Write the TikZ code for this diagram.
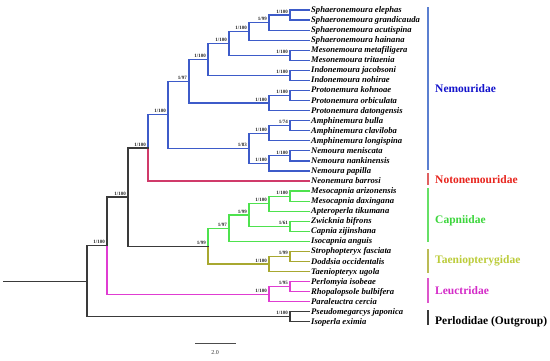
\documentclass[tikz,border=0pt]{standalone}
\usepackage{fontspec}
\setmainfont{Liberation Serif}
\definecolor{bbl}{HTML}{3D5BC9}
\definecolor{bno}{HTML}{D03A6A}
\definecolor{bca}{HTML}{4EE24E}
\definecolor{bta}{HTML}{A8A830}
\definecolor{ble}{HTML}{E03CD2}
\definecolor{bbk}{HTML}{3A3A3A}
\definecolor{tbl}{HTML}{1414CC}
\definecolor{tno}{HTML}{E8251E}
\definecolor{tca}{HTML}{3CD63C}
\definecolor{tta}{HTML}{BCCC3A}
\definecolor{tle}{HTML}{D42AC8}
\definecolor{rbl}{HTML}{5B7FD0}
\definecolor{rno}{HTML}{E06060}
\definecolor{rca}{HTML}{66E066}
\definecolor{rta}{HTML}{BBBB55}
\definecolor{rle}{HTML}{DD55CC}
\tikzset{
  br/.style={line width=1.2pt, line cap=rect},
  taxon/.style={anchor=west, inner xsep=2pt, inner ysep=0pt, text height=0.7em, text depth=0.2em,
    font=\fontsize{8.6}{9}\selectfont\bfseries\itshape},
  sup/.style={anchor=south east, inner sep=0pt, xshift=-2pt, yshift=1.6pt,
    font=\fontsize{5}{5}\selectfont\bfseries, text=black!85},
  fam/.style={anchor=west, inner sep=0pt, font=\fontsize{11.5}{12}\selectfont\bfseries},
  cbar/.style={line width=1.3pt}
}
\newcommand\inode[4]{\coordinate (#1) at (#2,#3); \node[sup] (s#1) at (#1) {#4};}
\begin{document}
\begin{tikzpicture}[x=1pt,y=-1pt]
\fill[white] (0,0) rectangle (550,360);
\useasboundingbox (0,0) rectangle (550,360);
% leaves
\node[taxon] (t0) at (309,10) {Sphaeronemoura elephas};
\node[taxon] (t1) at (309,20.06) {Sphaeronemoura grandicauda};
\node[taxon] (t2) at (309,30.12) {Sphaeronemoura acutispina};
\node[taxon] (t3) at (309,40.18) {Sphaeronemoura hainana};
\node[taxon] (t4) at (309,50.24) {Mesonemoura metafiligera};
\node[taxon] (t5) at (309,60.3) {Mesonemoura tritaenia};
\node[taxon] (t6) at (309,70.36) {Indonemoura jacobsoni};
\node[taxon] (t7) at (309,80.42) {Indonemoura nohirae};
\node[taxon] (t8) at (309,90.48) {Protonemura kohnoae};
\node[taxon] (t9) at (309,100.54) {Protonemura orbiculata};
\node[taxon] (t10) at (309,110.6) {Protonemura datongensis};
\node[taxon] (t11) at (309,120.66) {Amphinemura bulla};
\node[taxon] (t12) at (309,130.72) {Amphinemura claviloba};
\node[taxon] (t13) at (309,140.78) {Amphinemura longispina};
\node[taxon] (t14) at (309,150.84) {Nemoura meniscata};
\node[taxon] (t15) at (309,160.9) {Nemoura nankinensis};
\node[taxon] (t16) at (309,170.96) {Nemoura papilla};
\node[taxon] (t17) at (309,181.02) {Neonemura barrosi};
\node[taxon] (t18) at (309,191.08) {Mesocapnia arizonensis};
\node[taxon] (t19) at (309,201.14) {Mesocapnia daxingana};
\node[taxon] (t20) at (309,211.2) {Apteroperla tikumana};
\node[taxon] (t21) at (309,221.26) {Zwicknia bifrons};
\node[taxon] (t22) at (309,231.32) {Capnia zijinshana};
\node[taxon] (t23) at (309,241.38) {Isocapnia anguis};
\node[taxon] (t24) at (309,251.44) {Strophopteryx fasciata};
\node[taxon] (t25) at (309,261.5) {Doddsia occidentalis};
\node[taxon] (t26) at (309,271.56) {Taeniopteryx ugola};
\node[taxon] (t27) at (309,281.62) {Perlomyia isobeae};
\node[taxon] (t28) at (309,291.68) {Rhopalopsole bulbifera};
\node[taxon] (t29) at (309,301.74) {Paraleuctra cercia};
\node[taxon] (t30) at (309,311.8) {Pseudomegarcys japonica};
\node[taxon] (t31) at (309,321.86) {Isoperla eximia};
% internal nodes
\inode{n1}{290}{15.03}{1/100}
\inode{n2}{269}{22.6}{1/99}
\inode{n3}{249}{31.4}{1/100}
\inode{n4}{290}{55.27}{1/100}
\inode{n5}{229}{43.3}{1/100}
\inode{n6}{290}{75.39}{1/100}
\inode{n7}{208}{59.35}{1/100}
\inode{n8}{290}{95.5}{1/100}
\inode{n9}{269}{103.05}{1/100}
\inode{n10}{189}{81.2}{1/97}
\inode{n11}{290}{125.7}{1/74}
\inode{n12}{269}{133.2}{1/100}
\inode{n13}{290}{155.87}{1/100}
\inode{n14}{269}{163.4}{1/100}
\inode{n15}{249}{148.3}{1/83}
\inode{n16}{168}{114.8}{1/100}
\inode{n17}{148}{147.9}{1/100}
\inode{n18}{290}{196.1}{1/100}
\inode{n19}{269}{203.65}{1/100}
\inode{n20}{290}{226.3}{1/61}
\inode{n21}{249}{215}{1/99}
\inode{n22}{229}{228.2}{1/97}
\inode{n23}{290}{256.5}{1/99}
\inode{n24}{269}{264}{1/100}
\inode{n25}{208}{246.1}{1/99}
\inode{n26}{128}{197}{1/100}
\inode{n27}{290}{286.65}{1/95}
\inode{n28}{269}{294.2}{1/100}
\inode{n29}{107}{245.6}{1/100}
\inode{n30}{290}{316.8}{1/100}
\coordinate (n31) at (87,281.2);
\coordinate (root) at (4,281.2);
% Nemouridae edges
\begin{scope}[br, draw=bbl]
\draw (n1) |- (t0.west); \draw (n1) |- (t1.west);
\draw (n2) |- (n1); \draw (n2) |- (t2.west);
\draw (n3) |- (n2); \draw (n3) |- (t3.west);
\draw (n4) |- (t4.west); \draw (n4) |- (t5.west);
\draw (n5) |- (n3); \draw (n5) |- (n4);
\draw (n6) |- (t6.west); \draw (n6) |- (t7.west);
\draw (n7) |- (n5); \draw (n7) |- (n6);
\draw (n8) |- (t8.west); \draw (n8) |- (t9.west);
\draw (n9) |- (n8); \draw (n9) |- (t10.west);
\draw (n10) |- (n7); \draw (n10) |- (n9);
\draw (n11) |- (t11.west); \draw (n11) |- (t12.west);
\draw (n12) |- (n11); \draw (n12) |- (t13.west);
\draw (n13) |- (t14.west); \draw (n13) |- (t15.west);
\draw (n14) |- (n13); \draw (n14) |- (t16.west);
\draw (n15) |- (n12); \draw (n15) |- (n14);
\draw (n16) |- (n10); \draw (n16) |- (n15);
\draw (n17) |- (n16);
\end{scope}
\draw[br, bno] (n17) |- (t17.west);
% Capniidae
\begin{scope}[br, draw=bca]
\draw (n18) |- (t18.west); \draw (n18) |- (t19.west);
\draw (n19) |- (n18); \draw (n19) |- (t20.west);
\draw (n20) |- (t21.west); \draw (n20) |- (t22.west);
\draw (n21) |- (n19); \draw (n21) |- (n20);
\draw (n22) |- (n21); \draw (n22) |- (t23.west);
\draw (n25) |- (n22);
\end{scope}
% Taeniopterygidae
\begin{scope}[br, draw=bta]
\draw (n23) |- (t24.west); \draw (n23) |- (t25.west);
\draw (n24) |- (n23); \draw (n24) |- (t26.west);
\draw (n25) |- (n24);
\end{scope}
% Leuctridae
\begin{scope}[br, draw=ble]
\draw (n27) |- (t27.west); \draw (n27) |- (t28.west);
\draw (n28) |- (n27); \draw (n28) |- (t29.west);
\draw (n29) |- (n28);
\end{scope}
% backbone
\begin{scope}[br, draw=bbk]
\draw (n26) |- (n17); \draw (n26) |- (n25);
\draw (n29) |- (n26);
\draw (n30) |- (t30.west); \draw (n30) |- (t31.west);
\draw (n31) |- (n29); \draw (n31) |- (n30);
\draw (root) -- (n31);
\end{scope}
% clade bars
\draw[cbar, rbl] (428,7) -- (428,170);
\draw[cbar, rno] (428,173) -- (428,185);
\draw[cbar, rca] (428,188) -- (428,242);
\draw[cbar, rta] (428,249) -- (428,273);
\draw[cbar, rle] (428,278) -- (428,303);
\draw[cbar, bbk] (428,310) -- (428,325);
\node[fam, text=tbl] (fnem) at (435,89) {Nemouridae};
\node[fam, text=tno] (fnot) at (435,180) {Notonemouridae};
\node[fam, text=tca] (fcap) at (435,221) {Capniidae};
\node[fam, text=tta] (ftae) at (435,260.5) {Taeniopterygidae};
\node[fam, text=tle] (fleu) at (435,291) {Leuctridae};
\node[fam, text=black] (fper) at (435,322) {Perlodidae (Outgroup)};
% scale bar
\coordinate (sba) at (195,343);
\coordinate (sbb) at (236,343);
\draw[line width=0.9pt, black!70] (sba) -- (sbb);
\node[inner sep=0pt, font=\fontsize{6}{6}\selectfont, text=black!80] (sbl) at (215,353) {2.0};
\end{tikzpicture}
\end{document}
